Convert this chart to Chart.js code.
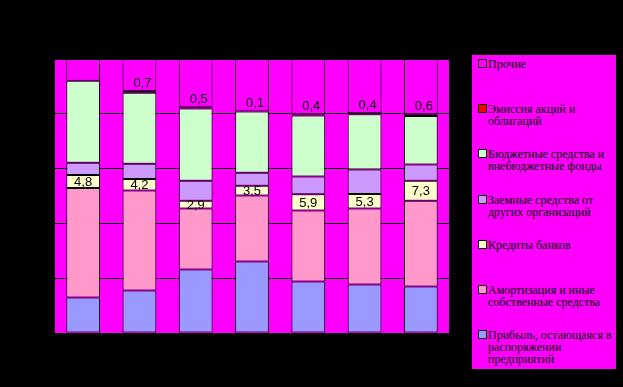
<!DOCTYPE html>
<html>
<head>
<meta charset="utf-8">
<script src="https://cdn.jsdelivr.net/npm/chart.js@4/dist/chart.umd.min.js"></script>
<style>
  html, body { margin: 0; padding: 0; background: #000; }
  #wrap { position: relative; width: 623px; height: 387px; background: #000; overflow: hidden; }
  #chart { position: absolute; left: 0; top: 0; }
  #legend {
    position: absolute; left: 472px; top: 55px; width: 144px; height: 314px;
    background: #ff00ff;
  }
  .item { position: absolute; left: 6px; width: 138px; font: 12px "Liberation Serif", "Times New Roman", serif; line-height: 12px; color: #000; }
  .sw { position: absolute; left: 0; top: 1px; width: 7px; height: 7px; border: 1px solid #000; }
  .txt { margin-left: 10px; }
</style>
</head>
<body>
<div id="wrap">
  <canvas id="chart" width="623" height="387"></canvas>
  <div id="legend"></div>
</div>
<script>
const categories = ["1", "2", "3", "4", "5", "6", "7"];

// bottom to top
const profit      = [13.0, 15.5, 23.2, 26.1, 18.8, 17.7, 17.0];
const depreciation = [39.9, 36.5, 22.2, 24.1, 25.9, 27.7, 31.3];
const bankCredits = [4.8, 4.2, 2.9, 3.5, 5.9, 5.3, 7.3];
const borrowed    = [4.4, 5.6, 7.3, 4.8, 6.5, 9.0, 5.9];
const budget      = [30.0, 25.9, 26.3, 22.3, 22.3, 20.1, 17.7];
const emission    = [0, 0.7, 0.5, 0.1, 0.4, 0.4, 0.6];
const other       = [7.9, 11.6, 17.6, 19.1, 20.2, 19.8, 20.2];

const yTicks = [0, 20, 40, 60, 80, 100];

const series = [
  { label: "Прибыль, остающаяся в распоряжении предприятий", data: profit, color: "#9999ff" },
  { label: "Амортизация и иные собственные средства", data: depreciation, color: "#ff99cc" },
  { label: "Кредиты банков", data: bankCredits, color: "#ffffcc" },
  { label: "Заемные средства от других организаций", data: borrowed, color: "#cc99ff" },
  { label: "Бюджетные средства и внебюджетные фонды", data: budget, color: "#ccffcc" },
  { label: "Эмиссия акций и облигаций", data: emission, color: "#ff0000" },
  { label: "Прочие", data: other, color: "#ff00ff" },
];

function fmt(v) {
  return String(v.toFixed(1)).replace(".", ",");
}

const plotBg = {
  id: "plotBg",
  beforeDraw(chart) {
    const { ctx, chartArea: a } = chart;
    ctx.save();
    ctx.fillStyle = "#ff00ff";
    ctx.fillRect(a.left, a.top, a.right - a.left, a.bottom - a.top);
    ctx.restore();
  },
};

const valueLabels = {
  id: "valueLabels",
  afterDatasetsDraw(chart) {
    const ctx = chart.ctx;
    ctx.save();
    ctx.fillStyle = "#000";
    ctx.font = '13px "Liberation Sans", Arial, sans-serif';
    ctx.textAlign = "center";
    // bank credits, centred in the segment
    chart.getDatasetMeta(2).data.forEach((bar, i) => {
      ctx.textBaseline = "middle";
      ctx.fillText(fmt(bankCredits[i]), bar.x, (bar.y + bar.base) / 2 + 1);
    });
    // emission, above the thin segment
    chart.getDatasetMeta(5).data.forEach((bar, i) => {
      if (!emission[i]) return;
      ctx.textBaseline = "bottom";
      ctx.fillText(fmt(emission[i]), bar.x + 3, bar.y - 1);
    });
    ctx.restore();
  },
};

new Chart(document.getElementById("chart"), {
  type: "bar",
  data: {
    labels: categories,
    datasets: series.map((s) => ({
      label: s.label,
      data: s.data,
      backgroundColor: s.color,
      borderColor: "#000",
      borderWidth: 1,
      borderSkipped: false,
      categoryPercentage: 1,
      barPercentage: 0.6,
    })),
  },
  options: {
    responsive: false,
    animation: false,
    layout: { padding: { left: 55, top: 59, right: 174, bottom: 54 } },
    plugins: { legend: { display: false }, tooltip: { enabled: false } },
    scales: {
      x: { stacked: true, display: false },
      y: {
        stacked: true,
        min: 0,
        max: 100,
        afterBuildTicks: (axis) => { axis.ticks = yTicks.map((v) => ({ value: v })); },
        ticks: { display: false },
        grid: { color: "#000", lineWidth: 1, drawTicks: false },
        border: { display: false },
      },
    },
  },
  plugins: [plotBg, valueLabels],
});

const legendEl = document.getElementById("legend");
legendEl.innerHTML = series
  .slice()
  .reverse()
  .map(
    (s, i) => `
  <div class="item" style="top:${3 + i * 45.2}px">
    <div class="sw" style="background:${s.color}"></div>
    <div class="txt">${s.label}</div>
  </div>`
  )
  .join("");
</script>
</body>
</html>
